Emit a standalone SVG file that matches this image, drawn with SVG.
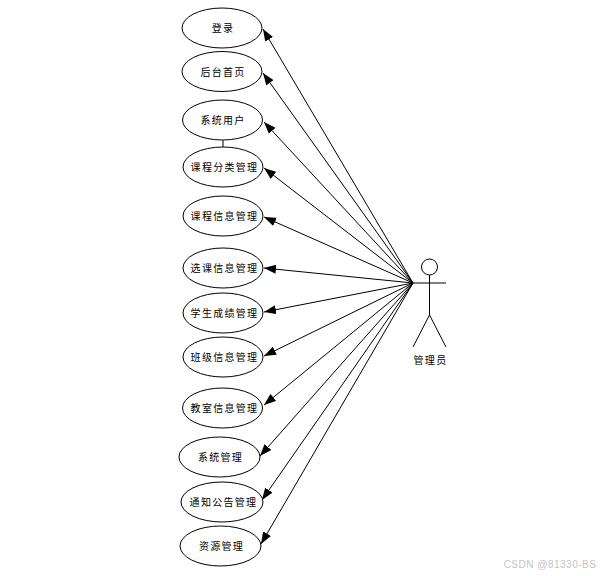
<svg xmlns="http://www.w3.org/2000/svg" width="605" height="576" viewBox="0 0 605 576">
<style>
.n{fill:#fff;stroke:#000;stroke-width:1}
.c{stroke:#000;stroke-width:1;fill:none}
.a{marker-end:url(#h)}
text{font-family:"Noto Sans CJK SC","Liberation Sans",sans-serif;font-size:10px;fill:#000;text-anchor:middle;letter-spacing:1.300px}
text.w{font-family:"Liberation Sans",sans-serif;font-size:10px;fill:#c4c4c4;letter-spacing:.5px}
</style>
<defs><marker id="h" viewBox="0 0 12 9" refX="12" refY="4.500" markerWidth="12" markerHeight="9" markerUnits="userSpaceOnUse" orient="auto"><path d="M0 0L12 4.500L0 9Z" fill="#000"/></marker></defs>
<rect width="605" height="576" fill="#fff"/>
<g id="connectors">
<path class="c" d="M223 140V147"/>
<path class="c a" d="M413 283L263 29"/>
<path class="c a" d="M413 283L263 73"/>
<path class="c a" d="M413 283L264 122"/>
<path class="c a" d="M413 283L264 168"/>
<path class="c a" d="M413 283L264 217"/>
<path class="c a" d="M413 283L264 268"/>
<path class="c a" d="M413 283L264 312"/>
<path class="c a" d="M413 283L264 356"/>
<path class="c a" d="M413 283L264 405"/>
<path class="c a" d="M413 283L260 456"/>
<path class="c a" d="M413 283L262 500"/>
<path class="c a" d="M413 283L261 544"/>
</g>
<g id="n1"><ellipse class="n" cx="222" cy="28" rx="40" ry="20"/><text x="223" y="32">登录</text></g>
<g id="n2"><ellipse class="n" cx="222" cy="71.500" rx="40" ry="20"/><text x="223" y="76">后台首页</text></g>
<g id="n3"><ellipse class="n" cx="222.500" cy="120" rx="40" ry="20"/><text x="223" y="124">系统用户</text></g>
<g id="n4"><ellipse class="n" cx="223" cy="167" rx="40" ry="20"/><text x="224.500" y="171">课程分类管理</text></g>
<g id="n5"><ellipse class="n" cx="223" cy="216" rx="40" ry="20"/><text x="224.500" y="220">课程信息管理</text></g>
<g id="n6"><ellipse class="n" cx="223" cy="268" rx="40" ry="20"/><text x="224.500" y="272">选课信息管理</text></g>
<g id="n7"><ellipse class="n" cx="223" cy="313" rx="40" ry="20"/><text x="224.500" y="317">学生成绩管理</text></g>
<g id="n8"><ellipse class="n" cx="223" cy="357" rx="40" ry="20"/><text x="224.500" y="361">班级信息管理</text></g>
<g id="n9"><ellipse class="n" cx="222.500" cy="408" rx="40" ry="20"/><text x="224.500" y="412">教室信息管理</text></g>
<g id="n10"><ellipse class="n" cx="219.500" cy="457" rx="40.500" ry="20"/><text x="220.500" y="461">系统管理</text></g>
<g id="n11"><ellipse class="n" cx="222" cy="502" rx="41" ry="20"/><text x="223.500" y="506">通知公告管理</text></g>
<g id="n12"><ellipse class="n" cx="220.500" cy="546" rx="40.500" ry="20"/><text x="221.500" y="550">资源管理</text></g>
<g id="actor">
<circle class="n" cx="429.500" cy="267" r="8"/>
<path class="c" d="M429.500 275V315M413 283H446M429.500 315L413 347M429.500 315L446 347"/>
<text x="430.500" y="364">管理员</text>
</g>
<text class="w" x="550" y="568">CSDN @81330-BS</text>
</svg>
